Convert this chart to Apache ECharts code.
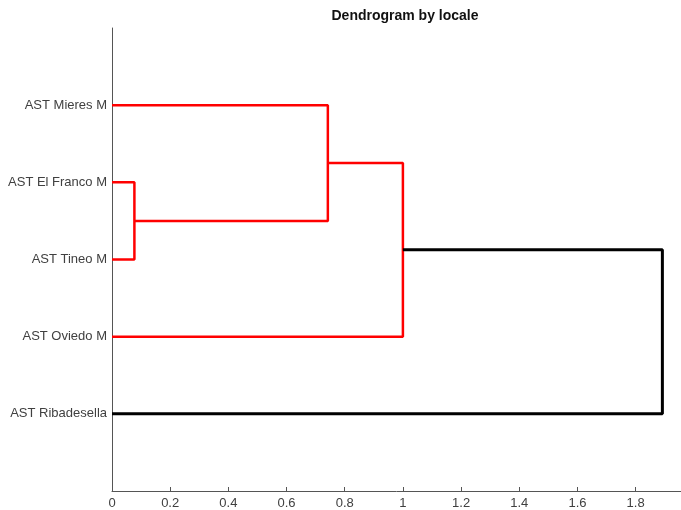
<!DOCTYPE html>
<html>
<head>
<meta charset="utf-8">
<script src="https://cdn.jsdelivr.net/npm/echarts@6/dist/echarts.min.js"></script>
<style>html,body{margin:0;padding:0;background:#fff}#c{width:681px;height:510px}</style>
</head>
<body>
<div id="c"></div>
<script>
// Leaves, bottom to top (y = 1..5)
var leafNames = ['AST Ribadesella', 'AST Oviedo M', 'AST Tineo M', 'AST El Franco M', 'AST Mieres M'];
// Merges: [childA, childB, height]; nodes 0..4 are leaves, merges are 5..8
var mergeA = [3, 4, 6, 7];
var mergeB = [2, 5, 1, 0];
var mergeHeight = [0.077, 0.742, 1.0, 1.892];
var mergeColor = ['#ff0000', '#ff0000', '#ff0000', '#000000'];
var xTicks = [0, 0.2, 0.4, 0.6, 0.8, 1, 1.2, 1.4, 1.6, 1.8];

var nodeY = [], nodeH = [];
leafNames.forEach(function (n, i) { nodeY.push(i + 1); nodeH.push(0); });
var series = [];
for (var k = 0; k < mergeHeight.length; k++) {
  var a = mergeA[k], b = mergeB[k], h = mergeHeight[k];
  series.push({
    type: 'line',
    data: [[nodeH[a], nodeY[a]], [h, nodeY[a]], [h, nodeY[b]], [nodeH[b], nodeY[b]]],
    symbol: 'none',
    lineStyle: { color: mergeColor[k], width: k === 3 ? 3 : 2.5 },
    silent: true,
    animation: false
  });
  nodeY.push((nodeY[a] + nodeY[b]) / 2);
  nodeH.push(h);
}

var chart = echarts.init(document.getElementById('c'));
chart.setOption({
  animation: false,
  title: {
    text: 'Dendrogram by locale',
    left: 400, top: 4, textAlign: 'center',
    textStyle: { fontFamily: 'Liberation Sans, Arial, sans-serif', fontSize: 14, fontWeight: 'bold', color: '#111' }
  },
  grid: { left: 112, right: 0, top: 28, bottom: 19, containLabel: false },
  xAxis: {
    type: 'value', min: 0, max: 1.956, interval: 0.2,
    axisLine: { show: true, lineStyle: { color: '#555', width: 1 } },
    axisTick: { show: true, inside: true, length: 4, lineStyle: { color: '#555' } },
    splitLine: { show: false },
    axisLabel: {
      margin: 6, color: '#404040', fontSize: 13, fontFamily: 'Liberation Sans, Arial, sans-serif',
      showMaxLabel: false,
      formatter: function (v) {
        for (var i = 0; i < xTicks.length; i++) if (Math.abs(xTicks[i] - v) < 1e-6) return String(xTicks[i]);
        return '';
      }
    }
  },
  yAxis: {
    type: 'value', min: 0, max: 6, interval: 1,
    axisLine: { show: true, lineStyle: { color: '#555', width: 1 } },
    axisTick: { show: false },
    splitLine: { show: false },
    axisLabel: {
      margin: 5, color: '#404040', fontSize: 13, fontFamily: 'Liberation Sans, Arial, sans-serif',
      formatter: function (v) { return leafNames[Math.round(v) - 1] || ''; }
    }
  },
  series: series
});
</script>
</body>
</html>
